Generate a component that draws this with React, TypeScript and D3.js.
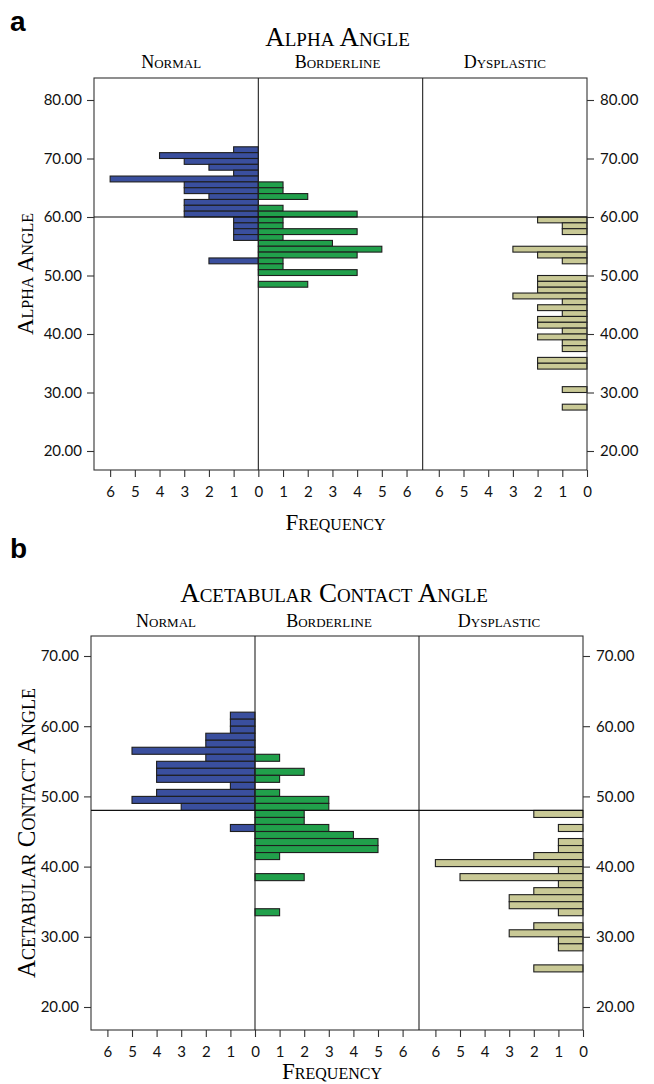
import { useEffect, useRef } from 'react';
import * as d3 from 'd3';

const W = 654;
const H = 1084;

// [lower bin edge, count]; bins are 1 degree wide
const alphaNormal = [[71, 1], [70, 4], [69, 3], [68, 2], [67, 1], [66, 6], [65, 3], [64, 3], [63, 2], [62, 3], [61, 3], [60, 3], [59, 1], [58, 1], [57, 1], [56, 1], [52, 2]];
const alphaBorderline = [[65, 1], [64, 1], [63, 2], [61, 1], [60, 4], [59, 1], [58, 1], [57, 4], [56, 1], [55, 3], [54, 5], [53, 4], [52, 1], [51, 1], [50, 4], [48, 2]];
const alphaDysplastic = [[59, 2], [58, 1], [57, 1], [54, 3], [53, 2], [52, 1], [49, 2], [48, 2], [47, 2], [46, 3], [45, 1], [44, 2], [43, 1], [42, 2], [41, 2], [40, 1], [39, 2], [38, 1], [37, 1], [35, 2], [34, 2], [30, 1], [27, 1]];

const acaNormal = [[61, 1], [60, 1], [59, 1], [58, 2], [57, 2], [56, 5], [55, 2], [54, 4], [53, 4], [52, 4], [51, 1], [50, 4], [49, 5], [48, 3], [45, 1]];
const acaBorderline = [[55, 1], [53, 2], [52, 1], [50, 1], [49, 3], [48, 3], [47, 2], [46, 2], [45, 3], [44, 4], [43, 5], [42, 5], [41, 1], [38, 2], [33, 1]];
const acaDysplastic = [[47, 2], [45, 1], [43, 1], [42, 1], [41, 2], [40, 6], [39, 1], [38, 5], [37, 1], [36, 2], [35, 3], [34, 3], [33, 1], [31, 2], [30, 3], [29, 1], [28, 1], [25, 2]];

const groups = ['Normal', 'Borderline', 'Dysplastic'];
const freqTicks = [0, 1, 2, 3, 4, 5, 6];
const alphaTicks = [20, 30, 40, 50, 60, 70, 80];
const acaTicks = [20, 30, 40, 50, 60, 70];

const colors = ['#3a4f9e', '#21a04b', '#c9c996'];
const serif = '"Liberation Serif", "Times New Roman", serif';
const sans = 'Lato, "Open Sans", sans-serif';

const panels = [
  {
    letter: 'a', letterY: 31, title: 'Alpha Angle', titleY: 46, headY: 68, headShift: [-5, -3, 0],
    yTitle: 'Alpha Angle', yTitleX: 33, yTitleSize: 23,
    left: 94, right: 587, top: 78, bottom: 470,
    yDomain: [20, 80], yRange: [451, 100], yTicks: alphaTicks, cut: 60, unit: 24.7,
    series: [alphaNormal, alphaBorderline, alphaDysplastic],
    freqY: 530,
  },
  {
    letter: 'b', letterY: 558, title: 'Acetabular Contact Angle', titleY: 602, headY: 627, headShift: [-7, -8, -2],
    yTitle: 'Acetabular Contact Angle', yTitleX: 35, yTitleSize: 25,
    left: 91, right: 583, top: 636, bottom: 1030,
    yDomain: [20, 70], yRange: [1007, 656], yTicks: acaTicks, cut: 48, unit: 24.6,
    series: [acaNormal, acaBorderline, acaDysplastic],
    freqY: 1079,
  },
];

export default function App() {
  const ref = useRef<SVGSVGElement>(null);

  useEffect(() => {
    const svg = d3.select(ref.current);
    svg.selectAll('*').remove();

    panels.forEach(p => {
      const g = svg.append('g');
      const y = d3.scaleLinear().domain(p.yDomain).range(p.yRange);
      const w = (p.right - p.left) / 3;
      const edges = [p.left, p.left + w, p.left + 2 * w, p.right];

      // x scales: zero at the shared edge
      const xs = [
        d3.scaleLinear().domain([0, 6]).range([edges[1], edges[1] - 6 * p.unit]),
        d3.scaleLinear().domain([0, 6]).range([edges[1], edges[1] + 6 * p.unit]),
        d3.scaleLinear().domain([0, 6]).range([edges[3], edges[3] - 6 * p.unit]),
      ];

      g.append('text')
        .attr('x', 10).attr('y', p.letterY)
        .style('font-family', '"Liberation Sans", Arial, sans-serif')
        .style('font-weight', 'bold').style('font-size', '28px')
        .text(p.letter);

      g.append('text')
        .attr('x', (p.left + p.right) / 2 - 3).attr('y', p.titleY)
        .attr('text-anchor', 'middle')
        .style('font-family', serif).style('font-size', '27px')
        .style('font-variant', 'small-caps')
        .text(p.title);

      groups.forEach((name, i) => {
        g.append('text')
          .attr('x', (edges[i] + edges[i + 1]) / 2 + p.headShift[i]).attr('y', p.headY)
          .attr('text-anchor', 'middle')
          .style('font-family', serif).style('font-size', '18px')
          .style('font-variant', 'small-caps')
          .text(name);
      });

      // bars
      p.series.forEach((data, i) => {
        const x = xs[i];
        g.append('g').selectAll('rect').data(data).join('rect')
          .attr('x', d => Math.min(x(0), x(d[1])))
          .attr('width', d => Math.abs(x(d[1]) - x(0)))
          .attr('y', d => y(d[0] + 1))
          .attr('height', d => y(d[0]) - y(d[0] + 1))
          .attr('fill', colors[i])
          .attr('stroke', '#1e1e1e')
          .attr('stroke-width', 1.1);
      });

      // frame and dividers
      g.append('rect')
        .attr('x', p.left).attr('y', p.top)
        .attr('width', p.right - p.left).attr('height', p.bottom - p.top)
        .attr('fill', 'none').attr('stroke', '#333').attr('stroke-width', 1.1);
      [edges[1], edges[2]].forEach(ex => {
        g.append('line')
          .attr('x1', ex).attr('x2', ex).attr('y1', p.top).attr('y2', p.bottom)
          .attr('stroke', '#222').attr('stroke-width', 1.1);
      });

      // cut-off line
      g.append('line')
        .attr('x1', p.left).attr('x2', p.right)
        .attr('y1', y(p.cut)).attr('y2', y(p.cut))
        .attr('stroke', '#111').attr('stroke-width', 1.2);

      // y axes
      const yl = g.append('g').attr('transform', `translate(${p.left},0)`)
        .call(d3.axisLeft(y).tickValues(p.yTicks).tickFormat(d3.format('.2f')).tickSize(7).tickPadding(5));
      const yr = g.append('g').attr('transform', `translate(${p.right},0)`)
        .call(d3.axisRight(y).tickValues(p.yTicks).tickFormat(d3.format('.2f')).tickSize(7).tickPadding(6));
      [yl, yr].forEach(a => {
        a.select('.domain').remove();
        a.selectAll('line').attr('stroke', '#333').attr('stroke-width', 1.1);
        a.selectAll('text').style('font-family', sans).style('font-size', '15px').attr('fill', '#111');
      });

      // x axes
      xs.forEach((x, i) => {
        const ticks = i === 1 ? freqTicks.slice(1) : freqTicks;
        const a = g.append('g').attr('transform', `translate(0,${p.bottom})`)
          .call(d3.axisBottom(x).tickValues(ticks).tickFormat(d3.format('d')).tickSize(7).tickPadding(9));
        a.select('.domain').remove();
        a.selectAll('line').attr('stroke', '#333').attr('stroke-width', 1.1);
        a.selectAll('text').style('font-family', sans).style('font-size', '15px').attr('fill', '#111');
      });

      g.append('text')
        .attr('x', (p.left + p.right) / 2 - 5).attr('y', p.freqY)
        .attr('text-anchor', 'middle')
        .style('font-family', serif).style('font-size', '23px')
        .style('font-variant', 'small-caps')
        .text('Frequency');

      g.append('text')
        .attr('transform', `translate(${p.yTitleX},${(p.top + p.bottom) / 2}) rotate(-90)`)
        .attr('text-anchor', 'middle')
        .style('font-family', serif).style('font-size', `${p.yTitleSize}px`)
        .style('font-variant', 'small-caps')
        .text(p.yTitle);
    });
  }, []);

  return (
    <svg ref={ref} width={W} height={H} style={{ display: 'block', position: 'absolute', left: 0, top: 0, background: '#fff' }} />
  );
}
